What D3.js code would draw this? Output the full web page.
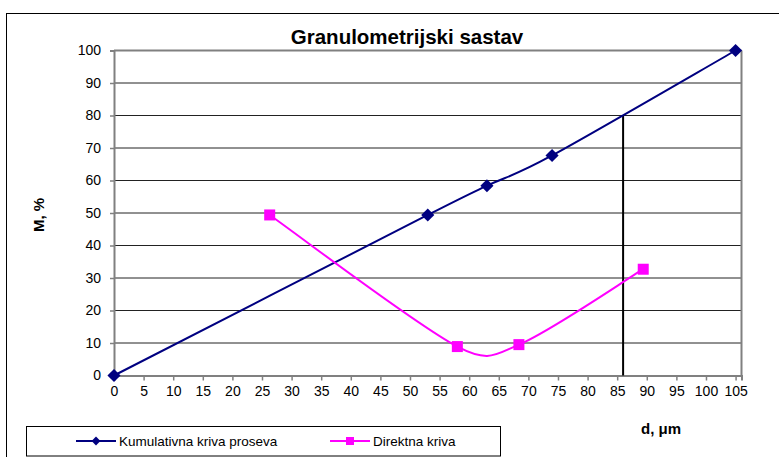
<!DOCTYPE html>
<head>
  <meta charset="utf-8">
  <script src="https://d3js.org/d3.v7.min.js"></script>
  <style>
  *{ margin:0; padding:0; }
  body{ background:#fff; font-family: 'Liberation Sans', Arial, sans-serif; }
  text{ fill:#000; }
  </style>
</head>
<body>
  <svg id="viz"></svg>
  <script>
    // data
    let cumD = [0, 53, 63, 74, 105];
    let cumM = [0, 49.4, 58.4, 67.7, 100];
    let dirD = [26.3, 58, 68.4, 89.4];
    let dirM = [49.4, 8.9, 9.5, 32.7];
    let xTicks = d3.range(0, 106, 5);
    let yTicks = d3.range(0, 101, 10);
    let d80 = [86, 80];

    let svg = d3.select("svg").attr("width", 779).attr("height", 457);

    let x = d3.scaleLinear().domain([0, 106]).range([114, 741.5]);
    let y = d3.scaleLinear().domain([0, 100]).range([375.5, 50.5]);

    //outer frame
    svg.append("rect").attr("x", 6.5).attr("y", 13.5).attr("width", 800).attr("height", 500)
      .attr("fill", "none").attr("stroke", "#000");

    //title
    svg.append("text").attr("x", 407).attr("y", 43.5).attr("text-anchor", "middle")
      .style("font-size", "20.5px").style("font-weight", "bold").text("Granulometrijski sastav");

    //gridlines
    svg.append("g").selectAll("line").data(yTicks.slice(1)).enter().append("line")
      .attr("x1", x(0)).attr("x2", x(106))
      .attr("y1", d => y(d)).attr("y2", d => y(d))
      .attr("stroke", d => d == 100 ? "#808080" : "#222").attr("stroke-width", d => d == 100 ? 2 : 1);

    //right border
    svg.append("line").attr("x1", x(106)).attr("x2", x(106)).attr("y1", y(100)).attr("y2", y(0))
      .attr("stroke", "#808080").attr("stroke-width", 2);

    //axes
    let yAxis = svg.append("g").attr("transform", `translate(${x(0)},0)`)
      .call(d3.axisLeft(y).tickValues(yTicks).tickSize(4).tickPadding(9));
    let xAxis = svg.append("g").attr("transform", `translate(0,${y(0)})`)
      .call(d3.axisBottom(x).tickValues(xTicks).tickSize(5).tickPadding(6));
    [xAxis, yAxis].forEach(a => {
      a.select(".domain").attr("stroke", "#808080").attr("stroke-width", 2);
      a.selectAll(".tick line").attr("stroke", "#808080").attr("stroke-width", 1.5);
      a.selectAll("text").style("font-size", "14px").attr("fill", "#111")
        .style("font-family", "'Liberation Sans', Arial, sans-serif");
    });

    //vertical d80 line
    svg.append("line").attr("x1", x(d80[0])).attr("x2", x(d80[0])).attr("y1", y(0)).attr("y2", y(d80[1]))
      .attr("stroke", "#000").attr("stroke-width", 2);

    //smoothed line like the spreadsheet one: bezier with 1/6 tangents, shrunk on short segments
    let smooth = (data) => {
      let pts = data.map(d => [x(d[0]), y(d[1])]);
      let n = pts.length;
      let p = d3.path();
      p.moveTo(pts[0][0], pts[0][1]);
      for (let i = 0; i < n - 1; i++) {
        let p0 = pts[Math.max(i - 1, 0)], p1 = pts[i], p2 = pts[i + 1], p3 = pts[Math.min(i + 2, n - 1)];
        let t1 = [(p2[0] - p0[0]) / 6, (p2[1] - p0[1]) / 6];
        let t2 = [(p3[0] - p1[0]) / 6, (p3[1] - p1[1]) / 6];
        let l1 = Math.hypot(t1[0], t1[1]), l2 = Math.hypot(t2[0], t2[1]);
        let seg = Math.hypot(p2[0] - p1[0], p2[1] - p1[1]);
        let k = (l1 + l2 > seg) ? seg / (l1 + l2) : 1;
        p.bezierCurveTo(p1[0] + t1[0] * k, p1[1] + t1[1] * k,
                        p2[0] - t2[0] * k, p2[1] - t2[1] * k, p2[0], p2[1]);
      }
      return p.toString();
    };

    let cum = cumD.map((d, i) => [d, cumM[i]]);
    let dir = dirD.map((d, i) => [d, dirM[i]]);

    svg.append("path").attr("d", smooth(cum)).attr("fill", "none")
      .attr("stroke", "#000080").attr("stroke-width", 2);
    svg.append("path").attr("d", smooth(dir)).attr("fill", "none")
      .attr("stroke", "#ff00ff").attr("stroke-width", 2);

    svg.append("g").selectAll("path").data(cum).enter().append("path")
      .attr("d", d3.symbol().type(d3.symbolDiamond2).size(110))
      .attr("transform", d => `translate(${x(d[0])},${y(d[1])})`)
      .attr("fill", "#000080");
    svg.append("g").selectAll("rect").data(dir).enter().append("rect")
      .attr("x", d => x(d[0]) - 5.5).attr("y", d => y(d[1]) - 5.5)
      .attr("width", 11).attr("height", 11).attr("fill", "#ff00ff");

    //axis titles
    svg.append("text").attr("transform", "translate(44,215) rotate(-90)").attr("text-anchor", "middle")
      .style("font-weight", "bold").style("font-size", "15px").text("M, %");
    svg.append("text").attr("x", 661).attr("y", 434).attr("text-anchor", "middle")
      .style("font-weight", "bold").style("font-size", "15px").text("d, μm");

    //legend
    svg.append("rect").attr("x", 26.5).attr("y", 426.5).attr("width", 474).attr("height", 29.5)
      .attr("fill", "#fff").attr("stroke", "#000");
    let leg = [
      {name: "Kumulativna kriva proseva", color: "#000080", x0: 76, mark: "diamond"},
      {name: "Direktna kriva", color: "#ff00ff", x0: 330, mark: "square"}
    ];
    let lg = svg.append("g").selectAll("g").data(leg).enter().append("g")
      .attr("transform", d => `translate(${d.x0},441)`);
    lg.append("line").attr("x1", 0).attr("x2", 40).attr("stroke", d => d.color).attr("stroke-width", 2);
    lg.append("path")
      .attr("d", d => d.mark == "diamond" ? d3.symbol().type(d3.symbolDiamond2).size(50)() : "M-4,-4h8v8h-8z")
      .attr("transform", "translate(20,0)")
      .attr("fill", d => d.color);
    lg.append("text").attr("x", 43).attr("y", 5).style("font-size", "13.5px").text(d => d.name);
  </script>
</body>
